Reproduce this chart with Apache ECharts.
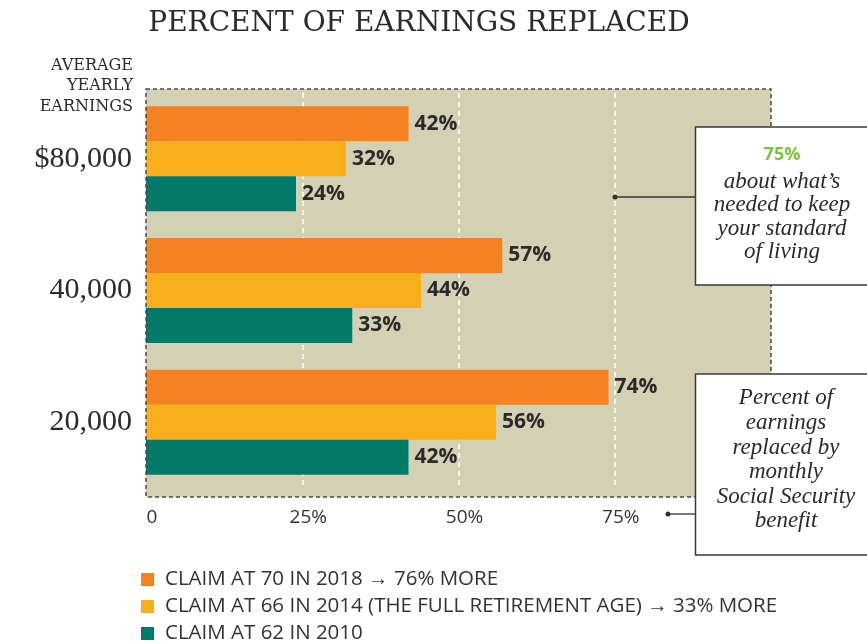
<!DOCTYPE html>
<html>
<head>
<meta charset="utf-8">
<script src="https://cdn.jsdelivr.net/npm/echarts@6/dist/echarts.min.js"></script>
<style>
  html, body { margin: 0; padding: 0; background: #fff; }
  #chart { width: 867px; height: 644px; }
</style>
</head>
<body>
<div id="chart"></div>
<script>
// earnings levels, top to bottom
const earnings = ['$80,000', '40,000', '20,000'];
const seriesNames = [
  'CLAIM AT 70 IN 2018 \u2192 76% MORE',
  'CLAIM AT 66 IN 2014 (THE FULL RETIREMENT AGE) \u2192 33% MORE',
  'CLAIM AT 62 IN 2010'
];
const claimAt70 = [42, 57, 74];
const claimAt66 = [32, 44, 56];
const claimAt62 = [24, 33, 42];
const colors = ['#f48221', '#f9ae1b', '#037a69'];
const xTicks = [0, 25, 50, 75, 100];

const myChart = echarts.init(document.getElementById('chart'));

const labelStyle = {
  show: true,
  position: 'right',
  distance: 6,
  formatter: '{c}%',
  fontFamily: 'Open Sans',
  fontWeight: 'bold',
  fontSize: 21,
  color: '#2a2a2a'
};

const serifItalic = {
  fontFamily: 'Liberation Serif',
  fontStyle: 'italic',
  fontSize: 23,
  fill: '#2b2b2b',
  align: 'center',
  verticalAlign: 'top',
  lineHeight: 24.6
};

const option = {
  animation: false,
  title: {
    text: 'PERCENT OF EARNINGS REPLACED',
    left: 414,
    textAlign: 'center',
    top: 5,
    textStyle: {
      fontFamily: 'DejaVu Serif',
      fontWeight: 'normal',
      fontSize: 28,
      color: '#2b2b2b'
    }
  },
  legend: {
    orient: 'vertical',
    left: 141,
    top: 569,
    height: 120,
    padding: 0,
    icon: 'rect',
    itemWidth: 13,
    itemHeight: 13,
    itemGap: 6,
    textStyle: {
      fontFamily: 'Open Sans',
      fontSize: 20.5,
      lineHeight: 21,
      color: '#333',
      padding: [0, 0, 0, 6]
    },
    data: seriesNames
  },
  grid: {
    left: 146,
    right: 96,
    top: 93,
    bottom: 156
  },
  xAxis: {
    type: 'value',
    min: xTicks[0],
    max: xTicks[xTicks.length - 1],
    interval: 25,
    axisLine: { show: false },
    axisTick: { show: false },
    axisLabel: {
      margin: 20,
      fontFamily: 'Open Sans',
      fontSize: 19,
      color: '#333',
      padding: [0, 0, 0, 12],
      formatter: v => (v === 0 ? '0' : v === 100 ? '' : v + '%')
    },
    splitLine: {
      show: true,
      showMinLine: false,
      showMaxLine: false,
      lineStyle: { color: '#ffffff', width: 1.5, type: [5, 4] }
    }
  },
  yAxis: {
    type: 'category',
    inverse: true,
    data: earnings,
    axisLine: { show: false },
    axisTick: { show: false },
    axisLabel: {
      margin: 14,
      fontFamily: 'Liberation Serif',
      fontSize: 30,
      color: '#2b2b2b',
      padding: [4, 0, 0, 0]
    }
  },
  series: [
    { name: seriesNames[0], type: 'bar', data: claimAt70, barWidth: 35, barGap: '0%', itemStyle: { color: colors[0] }, label: labelStyle },
    { name: seriesNames[1], type: 'bar', data: claimAt66, barWidth: 35, barGap: '0%', itemStyle: { color: colors[1] }, label: labelStyle },
    { name: seriesNames[2], type: 'bar', data: claimAt62, barWidth: 35, barGap: '0%', itemStyle: { color: colors[2] }, label: labelStyle }
  ],
  graphic: [
    // plot background
    {
      type: 'rect', z: -10, silent: true,
      shape: { x: 146, y: 89, width: 625, height: 408 },
      style: { fill: '#d3d0b3' }
    },
    // dashed frame
    {
      type: 'rect', z: 100, silent: true,
      shape: { x: 146, y: 89, width: 625, height: 408 },
      style: { fill: null, stroke: '#4a4a4a', lineWidth: 1.5, lineDash: [4, 3] }
    },
    {
      type: 'text', z: 100, silent: true,
      x: 133, y: 55,
      style: {
        text: 'AVERAGE\nYEARLY\nEARNINGS',
        align: 'right',
        verticalAlign: 'top',
        fontFamily: 'DejaVu Serif',
        fontSize: 16,
        lineHeight: 20.7,
        fill: '#2b2b2b'
      }
    },
    // 75% callout
    {
      type: 'line', z: 100, silent: true,
      shape: { x1: 615, y1: 197, x2: 696, y2: 197 },
      style: { stroke: '#333', lineWidth: 1.3 }
    },
    { type: 'circle', z: 100, silent: true, shape: { cx: 615, cy: 197, r: 2.5 }, style: { fill: '#333' } },
    {
      type: 'rect', z: 101, silent: true,
      shape: { x: 695.5, y: 127, width: 180, height: 158 },
      style: { fill: '#fff', stroke: '#3a3a3a', lineWidth: 1.5 }
    },
    {
      type: 'text', z: 102, silent: true,
      style: {
        text: '75%', x: 782, y: 155, align: 'center', verticalAlign: 'middle',
        fontFamily: 'Open Sans', fontWeight: 'bold', fontSize: 18, fill: '#7cc242'
      }
    },
    {
      type: 'text', z: 102, silent: true,
      style: Object.assign({ text: 'about what\u2019s\nneeded to keep\nyour standard\nof living', x: 782, y: 170 }, serifItalic, { lineHeight: 23.5 })
    },
    // legend note callout
    {
      type: 'line', z: 100, silent: true,
      shape: { x1: 668, y1: 514, x2: 696, y2: 514 },
      style: { stroke: '#333', lineWidth: 1.3 }
    },
    { type: 'circle', z: 100, silent: true, shape: { cx: 668, cy: 514, r: 2.5 }, style: { fill: '#333' } },
    {
      type: 'rect', z: 101, silent: true,
      shape: { x: 695.5, y: 374, width: 180, height: 181 },
      style: { fill: '#fff', stroke: '#3a3a3a', lineWidth: 1.5 }
    },
    {
      type: 'text', z: 102, silent: true,
      style: Object.assign({ text: 'Percent of\nearnings\nreplaced by\nmonthly\nSocial Security\nbenefit', x: 786, y: 386 }, serifItalic)
    }
  ]
};

myChart.setOption(option);
</script>
</body>
</html>
